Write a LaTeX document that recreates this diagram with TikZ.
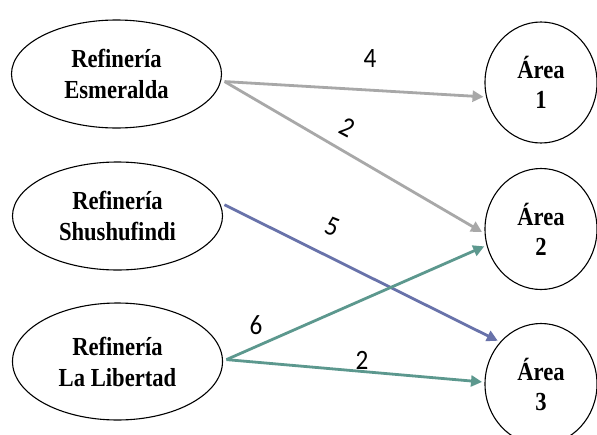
\documentclass[tikz,border=0pt]{standalone}
\usepackage{fontspec}
\setmainfont{Liberation Serif}
\newfontfamily\nodefont[FakeStretch=0.87]{Liberation Serif}
\newfontfamily\numfont[FakeStretch=0.9]{Carlito}
\usetikzlibrary{shapes.geometric,arrows.meta}
\definecolor{linegray}{RGB}{168,168,168}
\definecolor{lineblue}{RGB}{104,114,170}
\definecolor{lineteal}{RGB}{92,152,142}
\tikzset{
  refinery/.style={ellipse, draw=black, line width=1.1pt, inner sep=0pt,
    minimum width=210pt, minimum height=108pt, outer sep=4pt, align=center,
    font=\nodefont\bfseries\fontsize{26}{31}\selectfont},
  areanode/.style={ellipse, draw=black, line width=1.1pt, inner sep=0pt,
    minimum width=112pt, minimum height=121pt, outer sep=3pt, align=center,
    font=\nodefont\bfseries\fontsize{26}{30}\selectfont},
  flow/.style={line width=2.8pt, -{Triangle[length=11pt,width=11pt]}},
  qty/.style={font=\numfont\fontsize{28}{28}\selectfont, inner sep=0pt}
}
\begin{document}
\begin{tikzpicture}[x=1pt,y=-1pt]
\useasboundingbox (0,0) rectangle (597,434);
\fill[white] (0,0) rectangle (597,434);

\node[refinery] (e1) at (116.5,74) {Refinería\\Esmeralda};
\node[refinery] (e2) at (117.5,216) {Refinería\\Shushufindi};
\node[refinery, minimum height=117pt] (e3) at (117.5,361.5) {Refinería\\La Libertad};

\node[areanode] (a1) at (541,82.5) {Área\\1};
\node[areanode] (a2) at (541,229) {Área\\2};
\node[areanode] (a3) at (541,384) {Área\\3};

\draw[flow, linegray] (e1.-4) -- (a1.194.5);
\draw[flow, linegray] (e1.-4) -- (a2.183);
\draw[flow, lineblue] (e2.6) -- (a3.135);
\draw[flow, lineteal] (e3.1) -- (a2.197);
\draw[flow, lineteal] (e3.1) -- (a3.178);

\node[qty] (q1) at (370,59) {4};
\node[qty, rotate=-28] (q2) at (347,127) {2};
\node[qty, rotate=-22] (q3) at (332,227) {5};
\node[qty] (q4) at (256,325) {6};
\node[qty] (q5) at (362,360) {2};
\end{tikzpicture}
\end{document}
